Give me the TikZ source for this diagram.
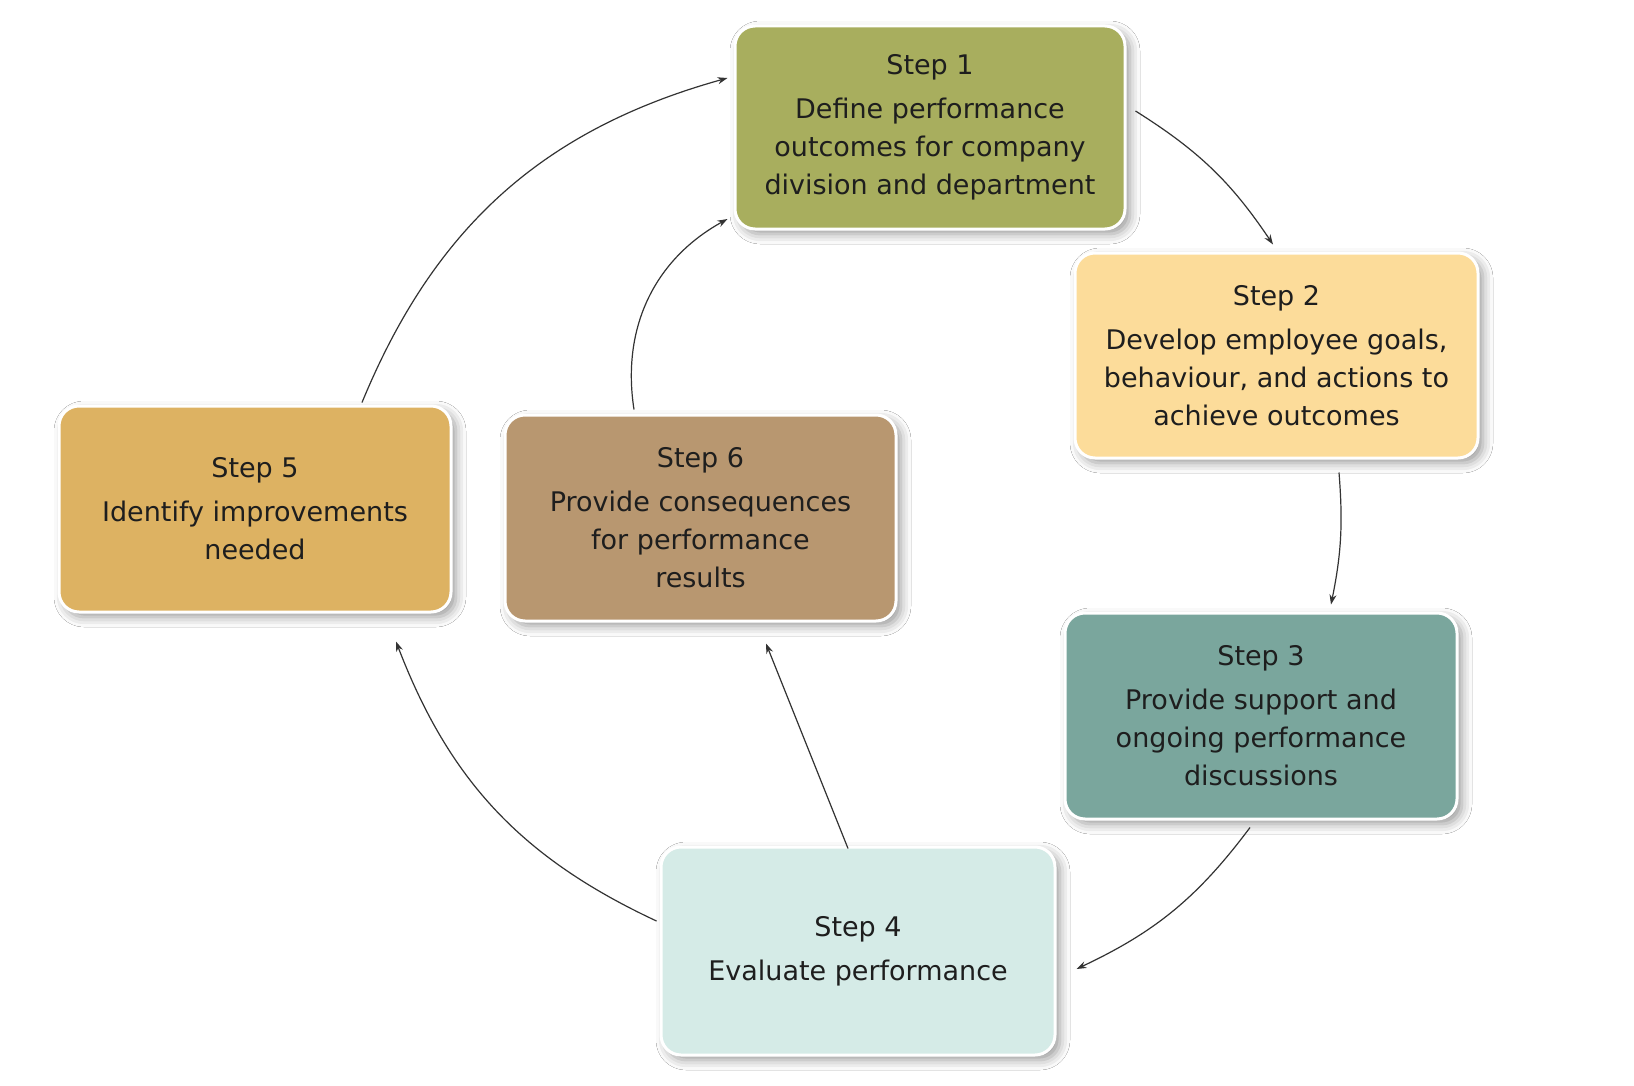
\documentclass[tikz,border=0pt]{standalone}
\usepackage{fontspec}
\setmainfont{DejaVu Sans}
\usetikzlibrary{arrows.meta,calc,shadows.blur}
\definecolor{cone}{HTML}{A8AE5E}
\definecolor{ctwo}{HTML}{FCDC9A}
\definecolor{cthree}{HTML}{7AA69D}
\definecolor{cfour}{HTML}{D5EBE7}
\definecolor{cfive}{HTML}{DDB262}
\definecolor{csix}{HTML}{B89770}
\definecolor{txt}{HTML}{1E1E1E}
\definecolor{arrowc}{HTML}{333333}
\begin{document}
\begin{tikzpicture}[x=0.5pt,y=-0.5pt,
  stepbox/.style={rounded corners=10pt, draw=white, line width=1.5pt,
    align=center, inner sep=0pt, text=txt,
    font=\fontsize{13.5}{19}\selectfont,
    blur shadow={shadow xshift=2.5pt, shadow yshift=-2.5pt, shadow blur radius=5pt, shadow opacity=40}},
  conn/.style={-{Stealth[length=5pt,width=3.5pt]}, line width=0.6pt, draw=arrowc}]
\useasboundingbox (0,0) rectangle (1634,1086);
\fill[white] (0,0) rectangle (1634,1086);

\node[stepbox, fill=cone, minimum width=195pt, minimum height=101.5pt] (s1) at (930,127.5)
  {Step 1\\[3pt]Define performance\\outcomes for company\\division and department};
\node[stepbox, fill=ctwo, minimum width=201.5pt, minimum height=102.5pt] (s2) at (1276.5,355.5)
  {Step 2\\[3pt]Develop employee goals,\\behaviour, and actions to\\achieve outcomes};
\node[stepbox, fill=cthree, minimum width=196pt, minimum height=103pt] (s3) at (1261,716)
  {Step 3\\[3pt]Provide support and\\ongoing performance\\discussions};
\node[stepbox, fill=cfour, minimum width=197pt, minimum height=104pt] (s4) at (858,951)
  {Step 4\\[3pt]Evaluate performance};
\node[stepbox, fill=cfive, minimum width=196pt, minimum height=103pt] (s5) at (255,509)
  {Step 5\\[3pt]Identify improvements\\needed};
\node[stepbox, fill=csix, minimum width=195.5pt, minimum height=103pt] (s6) at (700.5,518)
  {Step 6\\[3pt]Provide consequences\\for performance\\results};

\draw[conn] ($(s1.east)+(9,-16.5)$) to[bend left=12] ($(s2.north)+(-3.5,-7)$);
\draw[conn] ($(s2.south)+(62.5,13)$) to[bend left=8] ($(s3.north)+(70,-7)$);
\draw[conn] ($(s3.south)+(-11,7)$) to[bend left=14] ($(s4.east)+(20,18)$);
\draw[conn] ($(s4.west)+(-3,-30)$) to[bend left=22] ($(s5.south)+(141,28)$);
\draw[conn] ($(s4.north)+(-10,3)$) -- ($(s6.south)+(65.5,21)$);
\draw[conn] ($(s5.north)+(107,-2)$) to[bend left=26] ($(s1.west)+(-6,-49.5)$);
\draw[conn] ($(s6.north)+(-66.5,-4)$) to[bend left=35] ($(s1.west)+(-6,91.5)$);
\end{tikzpicture}
\end{document}
